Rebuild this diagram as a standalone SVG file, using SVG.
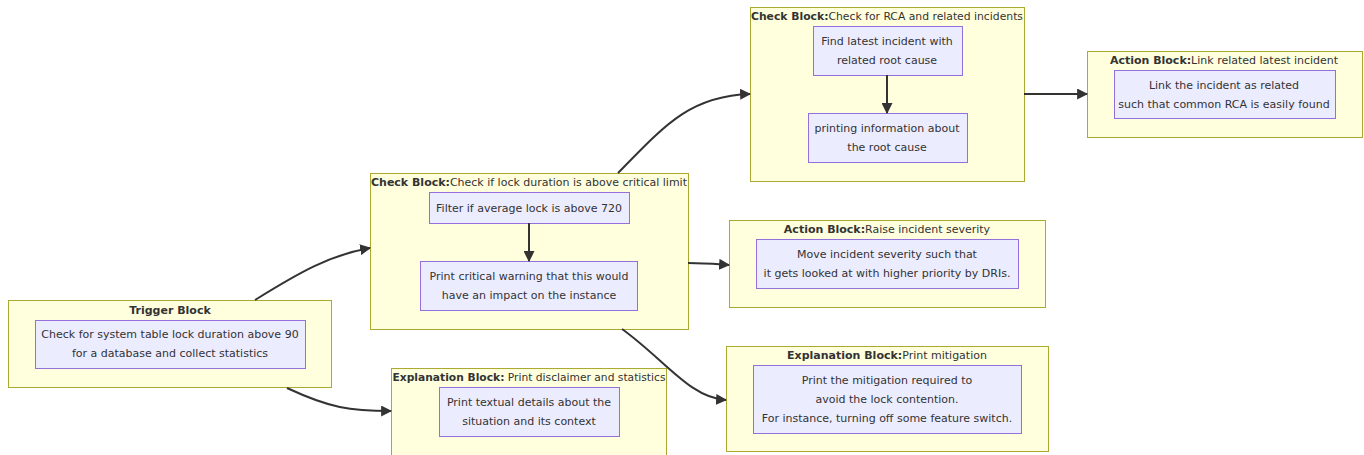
<svg xmlns="http://www.w3.org/2000/svg" width="1364" height="455" viewBox="0 0 1364 455">
<style>
.cluster{fill:#ffffde;stroke:#aaaa33;stroke-width:1}
.node{fill:#ececff;stroke:#9370db;stroke-width:1}
text{font-family:"DejaVu Sans",Verdana,sans-serif;font-size:11px;fill:#333;text-anchor:middle;dominant-baseline:central}
.b{font-weight:bold}
.edge{fill:none;stroke:#333;stroke-width:2}
</style>
<defs>
<marker id="arr" viewBox="0 0 10 10" refX="9" refY="5" markerUnits="userSpaceOnUse" markerWidth="11" markerHeight="11" orient="auto">
<path d="M0,0 L10,5 L0,10 z" fill="#333"/>
</marker>
</defs>
<rect width="1364" height="455" fill="#fff"/>
<g id="trigger">
<rect class="cluster" x="8.5" y="300.5" width="323" height="87"/>
<text x="170" y="310" class="b">Trigger Block</text>
<rect class="node" x="35.5" y="320.5" width="270" height="48"/>
<text x="170" y="334">Check for system table lock duration above 90</text>
<text x="170" y="353">for a database and collect statistics</text>
</g>
<g id="check1">
<rect class="cluster" x="370.5" y="173.5" width="318" height="156"/>
<text x="529" y="182" textLength="316" lengthAdjust="spacingAndGlyphs"><tspan class="b">Check Block:</tspan>Check if lock duration is above critical limit</text>
<rect class="node" x="429.5" y="192.5" width="200" height="31"/>
<text x="529" y="208">Filter if average lock is above 720</text>
<rect class="node" x="420.5" y="261.5" width="217" height="49"/>
<text x="529" y="276">Print critical warning that this would</text>
<text x="529" y="295">have an impact on the instance</text>
</g>
<g id="check2">
<rect class="cluster" x="750.5" y="7.5" width="274" height="174"/>
<text x="887" y="16" textLength="272" lengthAdjust="spacingAndGlyphs"><tspan class="b">Check Block:</tspan>Check for RCA and related incidents</text>
<rect class="node" x="813.5" y="26.5" width="149" height="49"/>
<text x="887" y="41">Find latest incident with</text>
<text x="887" y="60">related root cause</text>
<rect class="node" x="808.5" y="113.5" width="159" height="49"/>
<text x="887" y="128">printing information about</text>
<text x="887" y="147">the root cause</text>
</g>
<g id="action-link">
<rect class="cluster" x="1087.5" y="51.5" width="275" height="86"/>
<text x="1224" y="60"><tspan class="b">Action Block:</tspan>Link related latest incident</text>
<rect class="node" x="1114.5" y="70.5" width="221" height="48"/>
<text x="1224" y="85">Link the incident as related</text>
<text x="1224" y="104">such that common RCA is easily found</text>
</g>
<g id="action-raise">
<rect class="cluster" x="729.5" y="220.5" width="316" height="87"/>
<text x="887" y="229"><tspan class="b">Action Block:</tspan>Raise incident severity</text>
<rect class="node" x="756.5" y="239.5" width="262" height="49"/>
<text x="887" y="254">Move incident severity such that</text>
<text x="887" y="273">it gets looked at with higher priority by DRIs.</text>
</g>
<g id="explain-disclaimer">
<rect class="cluster" x="391.5" y="368.5" width="275" height="90"/>
<text x="529" y="377" textLength="273" lengthAdjust="spacingAndGlyphs"><tspan class="b">Explanation Block:</tspan> Print disclaimer and statistics</text>
<rect class="node" x="439.5" y="387.5" width="180" height="49"/>
<text x="529" y="402">Print textual details about the</text>
<text x="529" y="421">situation and its context</text>
</g>
<g id="explain-mitigation">
<rect class="cluster" x="726.5" y="346.5" width="322" height="105"/>
<text x="887" y="355"><tspan class="b">Explanation Block:</tspan>Print mitigation</text>
<rect class="node" x="753.5" y="365.5" width="268" height="68"/>
<text x="887" y="380">Print the mitigation required to</text>
<text x="887" y="399">avoid the lock contention.</text>
<text x="887" y="418">For instance, turning off some feature switch.</text>
</g>
<g id="connectors">
<path class="edge" d="M255,300 C300,272 330,255 370,248" marker-end="url(#arr)"/>
<path class="edge" d="M287,388 C330,408 350,411 391,411" marker-end="url(#arr)"/>
<path class="edge" d="M618,173 C665,125 690,96 750,94" marker-end="url(#arr)"/>
<path class="edge" d="M688,263 C705,263 715,264 729,265" marker-end="url(#arr)"/>
<path class="edge" d="M622,329 C665,360 690,398 726,400" marker-end="url(#arr)"/>
<path class="edge" d="M1024,94 L1087,94" marker-end="url(#arr)"/>
<path class="edge" d="M529,223 L529,261" marker-end="url(#arr)"/>
<path class="edge" d="M887,75 L887,113" marker-end="url(#arr)"/>
</g>
</svg>
